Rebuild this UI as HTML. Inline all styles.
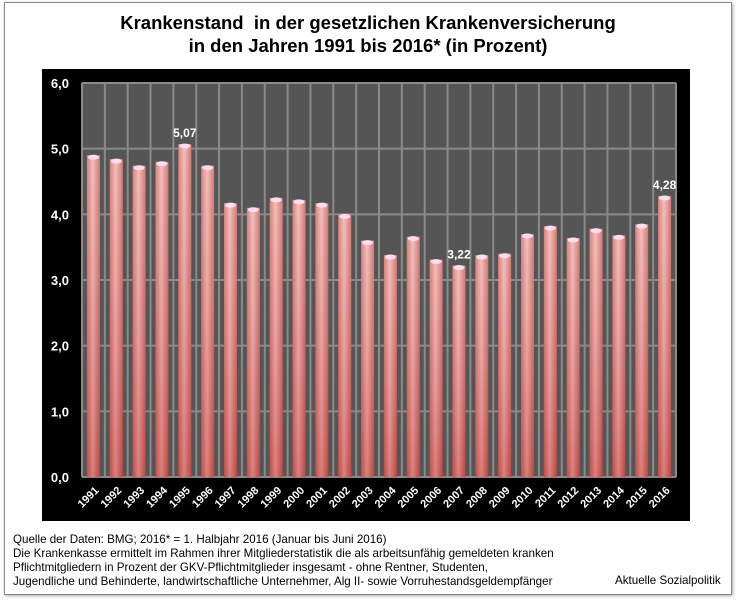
<!DOCTYPE html>
<html><head><meta charset="utf-8"><style>
body{margin:0;background:#fff;width:736px;height:600px;position:relative;font-family:"Liberation Sans",sans-serif;overflow:hidden}
#frame{position:absolute;left:4px;top:2px;width:726px;height:591px;border:1px solid #888;box-shadow:1px 1px 3px #aaa}
.t{position:absolute;white-space:nowrap}
</style></head><body>
<div id="frame"></div>
<div class="t" style="left:0;width:736px;top:11px;text-align:center;font-weight:bold;font-size:18.5px;line-height:23px">Krankenstand&nbsp; in der gesetzlichen Krankenversicherung<br>in den Jahren 1991 bis 2016* (in Prozent)</div>
<svg id="chart" width="736" height="600" style="position:absolute;left:0;top:0">
<defs>
<linearGradient id="bg" x1="0" x2="1" y1="0" y2="0">
<stop offset="0" stop-color="#c85a55"/><stop offset="0.45" stop-color="#f0aaa5"/><stop offset="1" stop-color="#c0504c"/></linearGradient>
<linearGradient id="bv" x1="0" x2="0" y1="0" y2="1">
<stop offset="0" stop-color="#fff" stop-opacity="0.25"/><stop offset="1" stop-color="#b03030" stop-opacity="0.35"/></linearGradient>
</defs>
<rect x="42" y="69" width="648" height="452" fill="#000"/>
<rect x="82" y="83" width="594" height="394" fill="#555"/>
<g id="grid"></g><g id="bars"></g><g id="labels"></g>
</svg>
<div class="t" style="left:13px;top:533px;font-size:11.6px;line-height:14px">Quelle der Daten: BMG; 2016* = 1. Halbjahr 2016 (Januar bis Juni 2016)<br>Die Krankenkasse ermittelt im Rahmen ihrer Mitgliederstatistik die als arbeitsunfähig gemeldeten kranken<br>Pflichtmitgliedern in Prozent der GKV-Pflichtmitglieder insgesamt - ohne Rentner, Studenten,<br>Jugendliche und Behinderte, landwirtschaftliche Unternehmer, Alg II- sowie Vorruhestandsgeldempfänger</div>
<div class="t" style="left:615px;top:574px;font-size:11.6px">Aktuelle Sozialpolitik</div>
<script>
const years=["1991","1992","1993","1994","1995","1996","1997","1998","1999","2000","2001","2002","2003","2004","2005","2006","2007","2008","2009","2010","2011","2012","2013","2014","2015","2016"];
const values=[4.90,4.84,4.74,4.80,5.07,4.74,4.17,4.10,4.25,4.22,4.17,4.00,3.60,3.38,3.66,3.31,3.22,3.38,3.40,3.70,3.82,3.64,3.78,3.68,3.85,4.28];
const yTicks=[0,1,2,3,4,5,6];
const yTickLabels=["0,0","1,0","2,0","3,0","4,0","5,0","6,0"];
const valueLabels={"1995":"5,07","2007":"3,22","2016":"4,28"};
const NS="http://www.w3.org/2000/svg";
const L=82,R=676,T=83,B=477,ymax=6;
const y=v=>B-(v/ymax)*(B-T);
const bw=(R-L)/years.length;
const x=i=>L+i*bw;
function mk(tag,attrs,parent){const e=document.createElementNS(NS,tag);for(const k in attrs)e.setAttribute(k,attrs[k]);document.getElementById(parent).appendChild(e);return e;}
yTicks.forEach((t,i)=>{
 const g=mk('line',{x1:L,x2:R,y1:y(t),y2:y(t),stroke:'#8a8a8a','stroke-width':2},'grid');
 
 
 const tx=mk('text',{x:69,y:y(t)+5,'text-anchor':'end',fill:'#fff','font-size':13,'font-weight':'bold','font-family':'Liberation Sans'},'labels');
 tx.textContent=yTickLabels[i];
 
 
});
for(let i=0;i<=years.length;i++){
 const g=mk('line',{x1:x(i),x2:x(i),y1:T,y2:B,stroke:'#8a8a8a','stroke-width':2},'grid');
 
 
}
years.forEach((yr,i)=>{
 const cx=x(i)+bw/2,w=13,top=y(values[i]);
 const r=mk('rect',{x:cx-w/2,y:top,width:w,height:B-top,fill:'url(#bg)'},'bars');
 
 
 const r2=mk('rect',{x:cx-w/2,y:top,width:w,height:B-top,fill:'url(#bv)'},'bars');
 
 
 const c=mk('ellipse',{cx:cx,cy:top+2,rx:w/2-1,ry:2.5,fill:'#fde'},'bars');
 
 
 const tx=mk('text',{x:cx+6,y:491,'text-anchor':'end',fill:'#fff','font-size':11,'font-weight':'bold','font-family':'Liberation Sans',transform:'rotate(-45 '+(cx+6)+' 491)'},'labels');
 tx.textContent=yr;
 
 
 if(valueLabels[yr]){
  const v=mk('text',{x:cx,y:top-7,'text-anchor':'middle',fill:'#fff','font-size':12,'font-weight':'bold','font-family':'Liberation Sans'},'labels');
  v.textContent=valueLabels[yr];
  
  
 }
});
</script>
</body></html>
